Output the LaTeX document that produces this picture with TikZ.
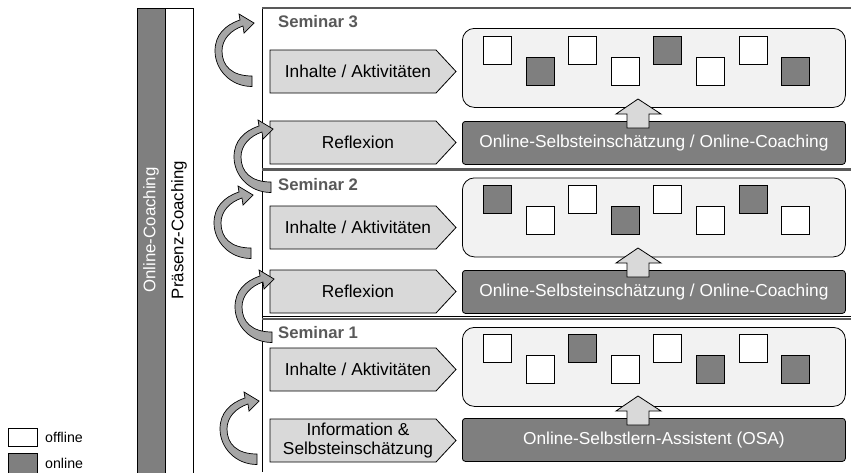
\documentclass[tikz,border=0pt]{standalone}
\usepackage{fontspec}
\setmainfont{Liberation Sans}
\usetikzlibrary{calc}
\definecolor{darkfill}{HTML}{7F7F7F}
\definecolor{lightfill}{HTML}{D9D9D9}
\definecolor{panelfill}{HTML}{F2F2F2}
\definecolor{labelgray}{HTML}{595959}
\definecolor{curlfill}{HTML}{A6A6A6}
\definecolor{rulegray}{HTML}{595959}

\tikzset{
  outline/.style={draw=black, line width=0.8pt},
  stepshape/.style={outline, fill=lightfill},
  panel/.style={outline, fill=panelfill, rounded corners=12pt, inner sep=0pt,
    minimum width=383pt, minimum height=79pt, anchor=north west},
  onlinebar/.style={outline, fill=darkfill, rounded corners=3pt, inner sep=0pt,
    minimum width=383pt, minimum height=43pt, anchor=north west, text=white,
    font=\fontsize{17.3}{20}\selectfont},
  sq/.style={outline, inner sep=0pt, minimum size=28pt, anchor=north west},
  bodytext/.style={font=\fontsize{17.3}{20}\selectfont, align=center},
  seminarlabel/.style={font=\bfseries\fontsize{16.7}{20}\selectfont,
    text=labelgray, anchor=west, inner sep=0pt},
  legendtext/.style={font=\fontsize{14.2}{17}\selectfont, anchor=west, inner sep=0pt},
  curl/.pic={
    \filldraw[fill=curlfill, draw=black, line width=0.7pt]
      (0,5.5) .. controls (-22,5.5) and (-37,-12) .. (-37,-30)
      .. controls (-37,-46) and (-27,-56) .. (-12,-61)
      -- (-13,-67) -- (2,-58) -- (-8,-48) -- (-9,-55)
      .. controls (-21,-51) and (-30,-42) .. (-30,-30)
      .. controls (-30,-15) and (-20,-5) .. (0,-5)
      -- cycle;
  }
}

% pentagon step with its label: name, top y, text
\newcommand\stepblock[3]{%
  \filldraw[stepshape] (270,#2) -- (436,#2) -- (456,#2+21.5) -- (436,#2+43)
    -- (270,#2+43) -- cycle;
  \node[bodytext] (#1) at (358,#2+21.5) {#3};
}
% block arrow pointing up from an online bar into its panel
\newcommand\uparrowfrom[1]{%
  \filldraw[stepshape] ($(#1.north west)+(165,7)$) -- ++(0,-14) -- ++(-11,0)
    -- ++(22,-15) -- ++(23,15) -- ++(-12,0) -- ++(0,14) -- cycle;
}
% row of eight activity squares inside a panel
\newcommand\squarerow[3]{%
  \foreach \c [count=\i from 0] in {#3} {
    \pgfmathsetmacro\sx{483+\i*42.6}
    \pgfmathsetmacro\sy{#2+(mod(\i,2)==1 ? 29 : 8)}
    \node[sq, fill=\c] (#1-\i) at (\sx,\sy) {};
  }
}

\begin{document}
\begin{tikzpicture}[x=1pt, y=-1pt]
\useasboundingbox (0,0) rectangle (851,472);
\fill[white] (0,0) rectangle (851,472);

% coaching bars
\node[outline, fill=darkfill, inner sep=0pt, minimum width=28pt, minimum height=470pt,
  anchor=north west] (onlinecoach) at (137,8) {};
\node[outline, fill=white, inner sep=0pt, minimum width=28pt, minimum height=470pt,
  anchor=north west] (presenzcoach) at (165,8) {};
\node[rotate=90, text=white, font=\fontsize{16.8}{20}\selectfont] (onlinelabel)
  at (151,230) {Online-Coaching};
\node[rotate=90, font=\fontsize{16.8}{20}\selectfont] (presenzlabel)
  at (179,230) {Präsenz-Coaching};

% frame and seminar separators
\draw[black, line width=0.8pt] (262,8) -- (262,472);
\draw[rulegray, line width=2pt] (262,8) -- (851,8);
\draw[rulegray, line width=3pt] (262,169.5) -- (851,169.5);
\draw[black, line width=0.8pt] (262,316) -- (851,316);
\draw[rulegray, line width=1.6pt] (262,319) -- (851,319);

% seminar titles
\node[seminarlabel] (sem3) at (278,22) {Seminar 3};
\node[seminarlabel] (sem2) at (278,185) {Seminar 2};
\node[seminarlabel] (sem1) at (278,333) {Seminar 1};

% Seminar 3
\stepblock{inhalt3}{50}{Inhalte / Aktivitäten}
\stepblock{reflex3}{121}{Reflexion}
\node[panel] (panel3) at (462,28) {};
\squarerow{s3}{28}{white,darkfill,white,white,darkfill,white,white,darkfill}
\node[onlinebar] (bar3) at (462,121) {Online-Selbsteinschätzung / Online-Coaching};
\uparrowfrom{bar3}

% Seminar 2
\stepblock{inhalt2}{206}{Inhalte / Aktivitäten}
\stepblock{reflex2}{270}{Reflexion}
\node[panel] (panel2) at (462,177.5) {};
\squarerow{s2}{177}{darkfill,white,white,darkfill,white,white,darkfill,white}
\node[onlinebar] (bar2) at (462,270) {Online-Selbsteinschätzung / Online-Coaching};
\uparrowfrom{bar2}

% Seminar 1
\stepblock{inhalt1}{348}{Inhalte / Aktivitäten}
\stepblock{info1}{419}{Information \&\\[-1pt]Selbsteinschätzung}
\node[panel] (panel1) at (462,327) {};
\squarerow{s1}{326}{white,white,darkfill,white,white,darkfill,white,darkfill}
\node[onlinebar] (bar1) at (462,418) {Online-Selbstlern-Assistent (OSA)};
\uparrowfrom{bar1}

% curved transition arrows
\pic at (252,81) {curl};
\pic at (271,187) {curl};
\pic at (251,253) {curl};
\pic at (272,337) {curl};
\pic at (257,459) {curl};

% legend
\node[sq, fill=white, minimum width=29pt, minimum height=18pt] (legoff) at (8,428) {};
\node[legendtext] (legofftext) at (45,437) {offline};
\node[sq, fill=darkfill, minimum width=29pt, minimum height=22pt] (legon) at (8,453) {};
\node[legendtext] (legontext) at (45,463) {online};
\end{tikzpicture}
\end{document}
